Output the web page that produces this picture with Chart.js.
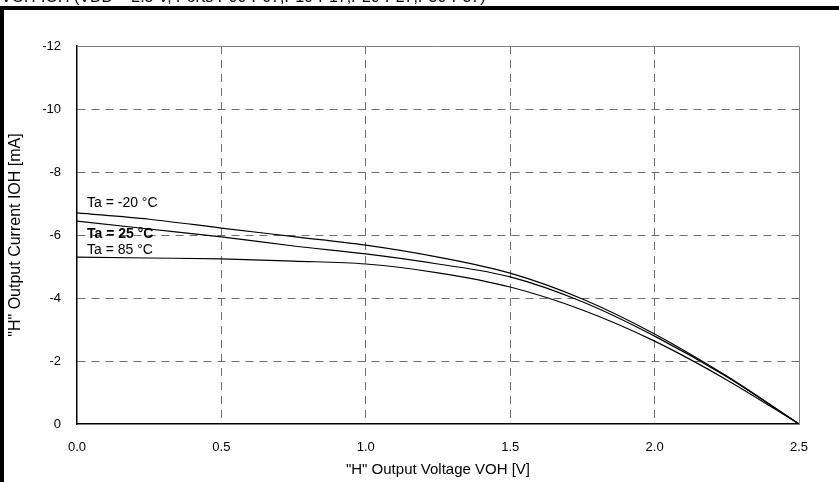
<!DOCTYPE html>
<html>
<head>
<script src="https://cdn.jsdelivr.net/npm/chart.js"></script>
<style>
  body { margin: 0; padding: 0; background: #fff; overflow: hidden; }
  #wrap { position: relative; width: 839px; height: 482px; }
  #chart { position: absolute; left: 0; top: 0; }
  #frame {
    position: absolute; left: 0px; top: 6px; width: 900px; height: 600px;
    border: 4px solid #000; pointer-events: none;
  }
  #title {
    position: absolute; left: 1px; top: -12px; white-space: nowrap;
    font: 16px "Liberation Sans", Arial, sans-serif; color: #000;
  }
</style>
</head>
<body>
<div id="wrap">
  <canvas id="chart" width="839" height="482"></canvas>
  <div id="frame"></div>
  <div id="title">VOH-IOH (VDD = 2.5 V, Ports P00-P07,P10-P17,P20-P27,P30-P37)</div>
</div>
<script>
// output voltage VOH [V]
const voltages = [0, 0.25, 0.5, 0.75, 1.0, 1.25, 1.5, 1.75, 2.0, 2.25, 2.5];
// output current IOH [mA] per temperature
const ioh_m20 = [-6.70, -6.50, -6.22, -5.95, -5.68, -5.30, -4.79, -3.97, -2.86, -1.52, 0];
const ioh_25  = [-6.44, -6.19, -5.94, -5.65, -5.40, -5.08, -4.67, -3.88, -2.79, -1.50, 0];
const ioh_85  = [-5.30, -5.27, -5.24, -5.17, -5.08, -4.80, -4.35, -3.62, -2.63, -1.40, 0];
const seriesNames = ['Ta = -20 °C', 'Ta = 25 °C', 'Ta = 85 °C'];
const labelLevels = [-7.02, -6.03, -5.52];

const font = '"Liberation Sans", Arial, sans-serif';

function pts(ys) {
  return voltages.map((v, i) => ({ x: v, y: ys[i] }));
}

const lineStyle = {
  borderColor: '#000', borderWidth: 1.2, pointRadius: 0,
  fill: false, cubicInterpolationMode: 'monotone'
};

// curve captions and top/right plot border
const extras = {
  id: 'extras',
  beforeDatasetsDraw(chart) {
    const ctx = chart.ctx, xs = chart.scales.x, ys = chart.scales.y;
    ctx.save();
    ctx.fillStyle = '#000';
    ctx.textBaseline = 'middle';
    seriesNames.forEach((name, i) => {
      ctx.font = (i === 1 ? 'bold ' : '') + '14px ' + font;
      ctx.fillText(name, xs.getPixelForValue(0) + 10, ys.getPixelForValue(labelLevels[i]));
    });
    ctx.restore();
  },
  afterDraw(chart) {
    const a = chart.chartArea, ctx = chart.ctx;
    ctx.save();
    ctx.strokeStyle = '#808080';
    ctx.lineWidth = 1;
    ctx.beginPath();
    ctx.moveTo(a.left, a.top + 0.5);
    ctx.lineTo(a.right + 0.5, a.top + 0.5);
    ctx.lineTo(a.right + 0.5, a.bottom);
    ctx.stroke();
    ctx.restore();
  }
};

const edgeGrid = (min, max) => (c) =>
  (c.tick && (c.tick.value === min || c.tick.value === max)) ? 'rgba(0,0,0,0)' : '#6e6e6e';

new Chart(document.getElementById('chart').getContext('2d'), {
  type: 'line',
  data: {
    datasets: [
      Object.assign({ label: seriesNames[0], data: pts(ioh_m20) }, lineStyle),
      Object.assign({ label: seriesNames[1], data: pts(ioh_25) }, lineStyle),
      Object.assign({ label: seriesNames[2], data: pts(ioh_85) }, lineStyle)
    ]
  },
  options: {
    responsive: false,
    animation: false,
    layout: { padding: { top: 46, right: 40, left: 0, bottom: 0 } },
    plugins: { legend: { display: false }, tooltip: { enabled: false } },
    scales: {
      x: {
        type: 'linear', min: 0, max: 2.5,
        afterFit(s) { s.height = 58; },
        ticks: { stepSize: 0.5, padding: 16, color: '#000', font: { family: font, size: 13 },
          callback: v => v.toFixed(1) },
        grid: { drawTicks: false, color: edgeGrid(0, 2.5), lineWidth: 1 },
        border: { display: true, color: '#000', width: 1.5, dash: [8, 6] },
        title: { display: true, text: '"H" Output Voltage VOH [V]', color: '#000',
          font: { family: font, size: 15 }, padding: { top: 2, bottom: 3 } }
      },
      y: {
        min: -12, max: 0, reverse: true,
        afterFit(s) { s.width = 77; },
        ticks: { stepSize: 2, padding: 16, color: '#000', font: { family: font, size: 13 } },
        grid: { drawTicks: false, color: edgeGrid(-12, 0), lineWidth: 1 },
        border: { display: true, color: '#000', width: 1.5, dash: [8, 6] },
        title: { display: true, text: '"H" Output Current IOH [mA]', color: '#000',
          font: { family: font, size: 16 }, padding: { top: 6, bottom: 4 } }
      }
    }
  },
  plugins: [extras]
});
</script>
</body>
</html>
